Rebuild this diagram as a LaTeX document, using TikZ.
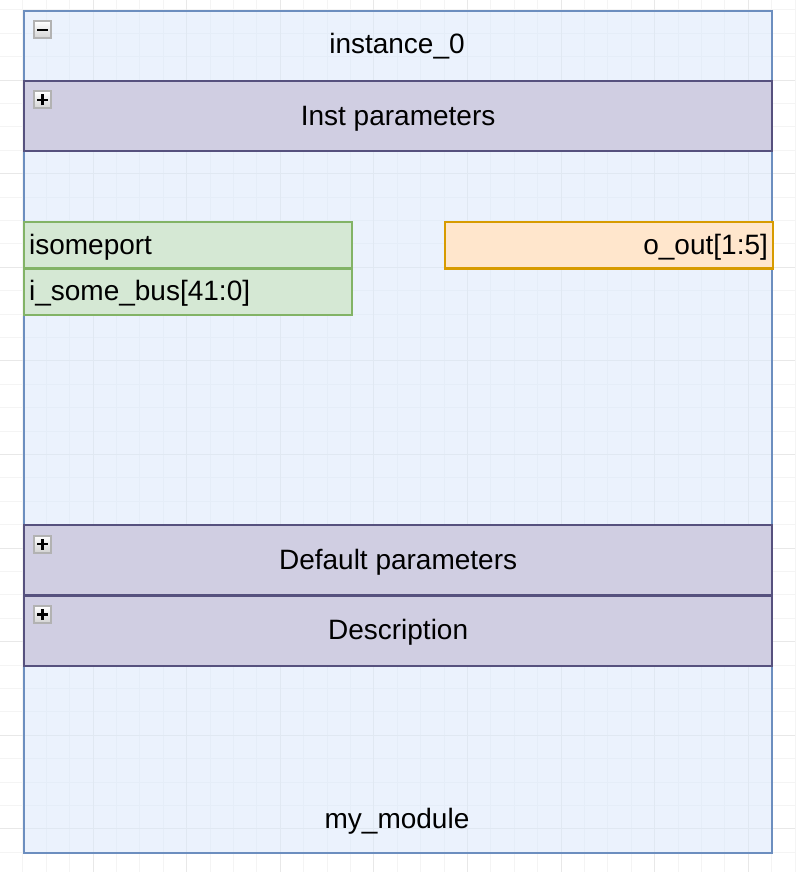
\documentclass[tikz,border=0pt]{standalone}
\usepackage{fontspec}
\setmainfont{Liberation Sans}
\usetikzlibrary{positioning}
\definecolor{contfill}{HTML}{DAE8FC}
\definecolor{contline}{HTML}{6C8EBF}
\definecolor{secfill}{HTML}{D0CEE2}
\definecolor{secline}{HTML}{56517E}
\definecolor{infill}{HTML}{D5E8D4}
\definecolor{inline}{HTML}{82B366}
\definecolor{outfill}{HTML}{FFE6CC}
\definecolor{outline}{HTML}{D79B00}
\tikzset{
  big/.style={font=\fontsize{28}{33}\selectfont,text height=24pt,text depth=6pt},
  minor/.style={gray!9,line width=0.8pt},
  major/.style={gray!18,line width=0.8pt},
  section/.style={big,draw=secline,fill=secfill,line width=2.2pt,anchor=north west,
    minimum width=748pt,minimum height=70.2pt,inner sep=0pt},
  port/.style={big,line width=2.2pt,anchor=north west,inner sep=5pt,
    text width=317.6pt,minimum height=46.8pt},
  icon/.style={draw=gray!60,line width=2pt,top color=white,bottom color=gray!35,
    minimum size=17pt,inner sep=0pt},
  sign/.style={black,line width=2.4pt}
}
\begin{document}
\begin{tikzpicture}[x=1pt,y=-1pt]
\useasboundingbox (0,0) rectangle (795,872);
% grille
\foreach \i in {0,...,33} \draw[minor] ({22.8+23.4*\i},0) -- ({22.8+23.4*\i},872);
\foreach \j in {0,...,36} \draw[minor] (0,{9.8+23.4*\j}) -- (795,{9.8+23.4*\j});
\foreach \i in {1,...,8} \draw[major] ({-0.6+93.6*\i},0) -- ({-0.6+93.6*\i},872);
\foreach \j in {0,...,8} \draw[major] (0,{80+93.6*\j}) -- (795,{80+93.6*\j});
% conteneur
\node[draw=contline,fill=contfill,fill opacity=0.55,line width=2.2pt,anchor=north west,
  minimum width=748pt,minimum height=842pt,inner sep=0pt] (inst) at (23,10) {};
\node[big] (title) at (397,45) {instance\_0};
\node[big] (name) at (397,819) {my\_module};
% sections
\node[section] (instpar) at (23,80) {Inst parameters};
\node[section] (defpar) at (23,524) {Default parameters};
\node[section] (desc) at (23,594.6) {Description};
% ports
\node[port,draw=inline,fill=infill,align=left] (isome) at (23,220.6) {isomeport};
\node[port,draw=inline,fill=infill,align=left] (ibus) at (23,267.4) {i\_some\_bus[41:0]};
\node[port,draw=outline,fill=outfill,align=right] (oout) at (444.2,220.6) {o\_out[1:5]};
% icones
\node[icon] (iconinst) at ([shift={(19.5,20)}]inst.north west) {};
\draw[sign] ([xshift=-5.5pt]iconinst.center) -- ([xshift=5.5pt]iconinst.center);
\foreach \s in {instpar,defpar,desc}{
  \node[icon] (icon\s) at ([shift={(19.5,20)}]\s.north west) {};
  \draw[sign] ([xshift=-5.5pt]icon\s.center) -- ([xshift=5.5pt]icon\s.center);
  \draw[sign] ([yshift=-5.5pt]icon\s.center) -- ([yshift=5.5pt]icon\s.center);
}
\end{tikzpicture}
\end{document}
